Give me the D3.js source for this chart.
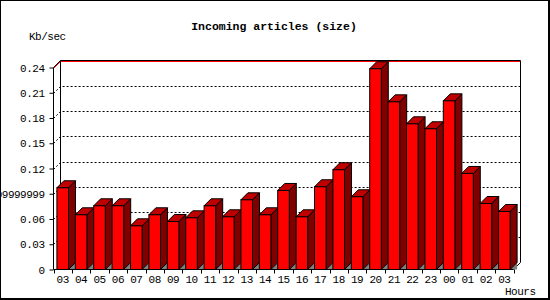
<!DOCTYPE html>
<html>
<head>
<meta charset="utf-8">
<script src="https://cdn.jsdelivr.net/npm/d3@7"></script>
<style>
html,body{margin:0;padding:0;background:#fff;}
svg{display:block;}
text{font-family:"Liberation Mono","DejaVu Sans Mono",monospace;fill:#000;}
</style>
</head>
<body>
<svg id="chart" width="550" height="300"></svg>
<script>
const hours = ["03","04","05","06","07","08","09","10","11","12","13","14","15","16","17","18","19","20","21","22","23","00","01","02","03"];
const kbps = [0.0971,0.0650,0.0757,0.0757,0.0519,0.0650,0.0570,0.0614,0.0757,0.0626,0.0828,0.0650,0.0939,0.0626,0.0983,0.1185,0.0864,0.2385,0.1992,0.1731,0.1672,0.2004,0.1141,0.0784,0.0689];
const tickValues = [0,0.03,0.06,0.09,0.12,0.15,0.18,0.21,0.24];
const tickLabels = ["0","0.03","0.06","0.09999999","0.12","0.15","0.18","0.21","0.24"];
const gridValues = [0.03,0.06,0.09,0.12,0.15,0.18,0.21];
const titleText = "Incoming articles (size)";
const yTitle = "Kb/sec";
const xTitle = "Hours";

const svg = d3.select("#chart");
const D = 7; // 3D depth
const x0 = 53.5, x1 = 513.5, yBase = 269.5, yTop = 67.5;
const FS = "11px", LS = "-0.5px";

const idx = hours.map((h,i)=>i);
const xCat = d3.scaleBand().domain(idx).range([x0, x1]).padding(0);
const xBar = d3.scaleBand().domain(idx).range([x0, x1]).paddingInner(0.37).paddingOuter(0.185);
const y = d3.scaleLinear().domain([0, 0.24]).range([yBase, yTop]);

// frame
svg.append("rect").attr("x",0.5).attr("y",0.5).attr("width",548).attr("height",298)
  .attr("fill","#fff").attr("stroke","#000");
svg.append("line").attr("x1",549.5).attr("x2",549.5).attr("y1",0).attr("y2",300).attr("stroke","#000");
svg.append("line").attr("x1",0).attr("x2",550).attr("y1",299.5).attr("y2",299.5).attr("stroke","#000");

// title
svg.append("text").attr("x",274).attr("y",27).attr("text-anchor","middle").attr("dominant-baseline","middle")
  .attr("font-family","DejaVu Sans Mono, monospace")
  .attr("font-weight","bold").attr("font-size","11.5px").text(titleText);
svg.append("text").attr("x",29).attr("y",37).attr("dominant-baseline","middle")
  .attr("font-size",FS).attr("letter-spacing",LS).text(yTitle);

// back wall grid lines
gridValues.forEach(v=>{
  const yy = Math.round(y(v)) + 0.5;
  svg.append("path").attr("d",`M${x0},${yy}L${x0+D},${yy-D}L${x1+D},${yy-D}`)
    .attr("fill","none").attr("stroke","#000").attr("stroke-dasharray","2,2");
});
// top red grid line
{
  const yy = y(0.24) + 1;
  svg.append("path").attr("d",`M${x0},${yy}L${x0+D},${yy-D}L${x1+D},${yy-D}`)
    .attr("fill","none").attr("stroke","#f00");
}
// back wall frame
svg.append("path").attr("d",`M${x0},${yTop}L${x0+D},${yTop-D}L${x1+D},${yTop-D}L${x1+D},${yBase-D}L${x1},${yBase}`)
  .attr("fill","none").attr("stroke","#000");
svg.append("line").attr("x1",x0+D).attr("x2",x0+D).attr("y1",yTop-D).attr("y2",yBase-D).attr("stroke","#000");

// bars
const bw = xBar.bandwidth();
const g = svg.append("g");
kbps.forEach((v,i)=>{
  const xl = xBar(i), xr = xBar(i)+bw, yt = y(v);
  g.append("path").attr("d",`M${xr},${yBase}L${xr+D},${yBase-D}L${xr+D},${yBase}Z`)
    .attr("fill","#808080").attr("stroke","none");
  g.append("path").attr("d",`M${xr},${yt}L${xr+D},${yt-D}L${xr+D},${yBase-D}L${xr},${yBase}Z`)
    .attr("fill","#800000").attr("stroke","#000");
  g.append("path").attr("d",`M${xl},${yt}L${xl+D},${yt-D}L${xr+D},${yt-D}L${xr},${yt}Z`)
    .attr("fill","#c00000").attr("stroke","#000");
  g.append("rect").attr("x",xl).attr("y",yt).attr("width",bw).attr("height",yBase-yt)
    .attr("fill","#ff0000").attr("stroke","#000");
});

// y axis
const yAxis = d3.axisLeft(y).tickValues(tickValues).tickSize(4).tickPadding(5)
  .tickFormat((d,i)=>tickLabels[i]);
const ya = svg.append("g").attr("transform",`translate(${x0},0)`).call(yAxis);
ya.select(".domain").attr("d",`M0,${yTop}V${yBase}`);
ya.selectAll("text").attr("font-size",FS).attr("letter-spacing",LS).attr("font-family","Liberation Mono, monospace");

// x axis
const xa = svg.append("g").attr("transform",`translate(0,${yBase})`);
xa.append("line").attr("x1",x0).attr("x2",x1).attr("y1",0).attr("y2",0).attr("stroke","#000");
const bounds = idx.map(i=>xCat(i)).concat([x1]);
xa.selectAll(".tk").data(bounds).join("line").attr("class","tk")
  .attr("x1",d=>Math.round(d)+0.5).attr("x2",d=>Math.round(d)+0.5).attr("y1",0).attr("y2",4).attr("stroke","#000");
xa.selectAll(".lb").data(hours).join("text").attr("class","lb")
  .attr("x",(d,i)=>xCat(i)+xCat.bandwidth()/2).attr("y",11).attr("text-anchor","middle")
  .attr("dominant-baseline","middle").attr("font-size",FS).attr("letter-spacing",LS).text(d=>d);
svg.append("text").attr("x",505).attr("y",292).attr("dominant-baseline","middle")
  .attr("font-size",FS).attr("letter-spacing",LS).text(xTitle);
</script>
</body>
</html>
